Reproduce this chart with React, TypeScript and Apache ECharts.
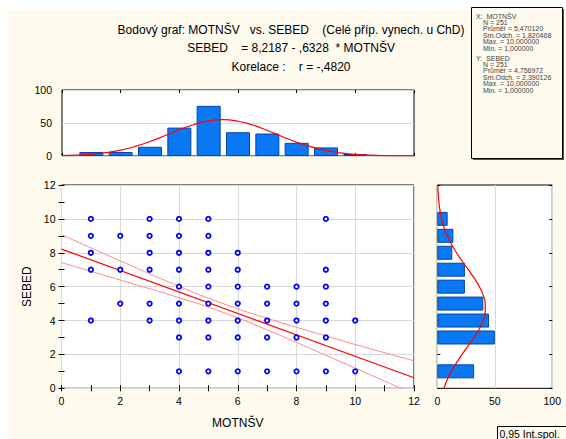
import React, { useEffect, useRef } from "react";
import * as echarts from "echarts";

const FONT = '"Liberation Sans", Arial, sans-serif';
const CREAM = "#fefaee";
const BAR = "#0a78f2";
const BAR_BORDER = "#0044b0";
const RED = "#ff0000";
const CI_RED = "#ff8a8a";
const GRID_LINE = "#d9d9d9";

// Histogram of MOTNŠV (top)
const xHistCats = [1, 2, 3, 4, 5, 6, 7, 8, 9, 10];
const xHistCounts = [6, 6, 14, 43, 76, 36, 34, 20, 13, 3];
// Fitted normal curve over MOTNŠV histogram
const xCurveX = [0, 0.5, 1, 1.5, 2, 2.5, 3, 3.5, 4, 4.5, 5, 5.5, 6, 6.5, 7, 7.5, 8, 8.5, 9, 9.5, 10, 10.5, 11, 11.5, 12];
const xCurveY = [0.6, 1.3, 2.7, 5.1, 8.9, 14.5, 21.9, 30.6, 39.7, 47.7, 53.2, 55.0, 52.7, 46.9, 38.6, 29.5, 20.9, 13.8, 8.4, 4.7, 2.5, 1.2, 0.5, 0.2, 0.1];

// Histogram of SEBED (right)
const yHistCats = [10, 9, 8, 7, 6, 5, 4, 3, 1];
const yHistCounts = [9, 14, 13, 24, 24, 40, 45, 50, 32];
const yCurveY = [0, 0.5, 1, 1.5, 2, 2.5, 3, 3.5, 4, 4.5, 5, 5.5, 6, 6.5, 7, 7.5, 8, 8.5, 9, 9.5, 10, 10.5, 11, 11.5, 12];
const yCurveX = [5.8, 8.6, 12.2, 16.6, 21.5, 26.8, 32.0, 36.5, 39.8, 41.7, 41.7, 39.9, 36.6, 32.1, 27.0, 21.7, 16.7, 12.3, 8.7, 5.8, 3.8, 2.3, 1.4, 0.8, 0.4];

// Scatter points (MOTNŠV, SEBED)
const scatterPoints: [number, number][] = [
  [1, 10], [1, 9], [1, 8], [1, 7], [1, 4],
  [2, 9], [2, 7], [2, 5],
  [3, 10], [3, 9], [3, 8], [3, 7], [3, 5], [3, 4],
  [4, 10], [4, 9], [4, 8], [4, 7], [4, 6], [4, 5], [4, 4], [4, 3], [4, 1],
  [5, 10], [5, 9], [5, 8], [5, 7], [5, 6], [5, 5], [5, 4], [5, 3], [5, 1],
  [6, 8], [6, 7], [6, 6], [6, 5], [6, 4], [6, 3], [6, 1],
  [7, 6], [7, 5], [7, 4], [7, 3], [7, 1],
  [8, 6], [8, 5], [8, 4], [8, 3], [8, 1],
  [9, 10], [9, 7], [9, 6], [9, 5], [9, 4], [9, 3], [9, 1],
  [10, 4], [10, 1],
];

// Regression line and 0.95 confidence band
const regX = [0, 12];
const regY = [8.2187, 0.6251];
const ciX = [0, 2, 4, 5.47, 7, 9, 10.5, 12];
const ciUpper = [9.07, 7.52, 6.02, 5.02, 4.13, 3.09, 2.34, 1.62];
const ciLower = [7.42, 6.39, 5.35, 4.5, 3.45, 1.95, 0.81, -0.35];

const titleLines = [
  "Bodový graf: MOTNŠV\u00a0\u00a0\u00a0vs. SEBED\u00a0\u00a0\u00a0\u00a0(Celé příp. vynech. u ChD)",
  "SEBED\u00a0\u00a0\u00a0\u00a0= 8,2187 - ,6328\u00a0\u00a0* MOTNŠV",
  "Korelace :\u00a0\u00a0\u00a0\u00a0r = -,4820",
];

const statsX = ["X:\u00a0\u00a0MOTNŠV", "N = 251", "Průměr = 5,470120", "Sm.Odch. = 1,820468", "Max. = 10,000000", "Min. = 1,000000"];
const statsY = ["Y:\u00a0\u00a0SEBED", "N = 251", "Průměr = 4,756972", "Sm.Odch. = 2,390126", "Max. = 10,000000", "Min. = 1,000000"];

const yCatLabels: string[] = [];
for (let i = 0; i <= 24; i++) yCatLabels.push(String(i / 2));

export default function App() {
  const ref = useRef<HTMLDivElement>(null);

  useEffect(() => {
    const chart = echarts.init(ref.current!, null, { renderer: "svg" });

    const tick = { show: true, inside: true, length: 3, lineStyle: { color: "#000", width: 1 } };
    const minor = { show: true, splitNumber: 2, length: 3, lineStyle: { color: "#000", width: 1 } };
    const label = { color: "#000", fontSize: 10.5, fontFamily: FONT };
    const split = { show: true, lineStyle: { color: GRID_LINE, width: 1 } };
    const noLine = { show: false };

    const rightBarData = yCatLabels.map(() => "-" as any);
    yHistCats.forEach((c, i) => {
      rightBarData[c * 2] = yHistCounts[i];
    });

    const graphic: any[] = [];
    titleLines.forEach((t, i) => {
      graphic.push({
        type: "text",
        x: 291,
        y: [30, 48, 67][i],
        style: { text: t, align: "center", verticalAlign: "middle", fontSize: 12, fontFamily: FONT, fill: "#000" },
      });
    });
    // stats box
    graphic.push({ type: "rect", shape: { x: 473, y: 9, width: 91, height: 151 }, style: { fill: "#555" } });
    graphic.push({ type: "rect", shape: { x: 471.5, y: 7.5, width: 91, height: 151 }, style: { fill: CREAM, stroke: "#000", lineWidth: 1 } });
    const statsLine = (t: string, x: number, y: number) => ({
      type: "text",
      x,
      y,
      style: { text: t, align: "left", verticalAlign: "middle", fontSize: 7, fontFamily: FONT, fill: "#444" },
    });
    statsX.forEach((t, i) => graphic.push(statsLine(t, i === 0 ? 476 : 483, 16 + i * 6.4)));
    statsY.forEach((t, i) => graphic.push(statsLine(t, i === 0 ? 476 : 483, 58 + i * 6.4)));
    // legend box bottom right
    graphic.push({ type: "rect", shape: { x: 497.5, y: 426.5, width: 80, height: 20 }, style: { fill: CREAM, stroke: "#000", lineWidth: 1 } });
    graphic.push({
      type: "text",
      x: 499.5,
      y: 428.5,
      style: { text: "0,95 Int.spol.", align: "left", verticalAlign: "top", fontSize: 10.5, fontFamily: FONT, fill: "#000" },
    });

    const gridBase = { show: true, backgroundColor: "#fff", borderColor: "#000", borderWidth: 1, containLabel: false };

    chart.setOption({
      animation: false,
      backgroundColor: "transparent",
      textStyle: { fontFamily: FONT },
      grid: [
        { ...gridBase, left: 62, top: 90, width: 352, height: 66 },
        { ...gridBase, left: 61.5, top: 185, width: 352.5, height: 203.3 },
        { ...gridBase, left: 437.3, top: 185, width: 115, height: 203.3 },
      ],
      xAxis: [
        { gridIndex: 0, type: "value", min: 0, max: 12, interval: 2, position: "bottom", axisLine: noLine, axisTick: tick, axisLabel: { show: false }, splitLine: { show: false } },
        { gridIndex: 0, type: "value", min: 0, max: 12, interval: 2, position: "top", axisLine: noLine, axisTick: tick, axisLabel: { show: false }, splitLine: { show: false } },
        {
          gridIndex: 1, type: "value", min: 0, max: 12, interval: 2, position: "bottom",
          axisLine: noLine, axisTick: tick, minorTick: minor, axisLabel: { ...label, margin: 7 }, splitLine: split,
          name: "MOTNŠV", nameLocation: "middle", nameGap: 29,
          nameTextStyle: { color: "#000", fontSize: 12, fontFamily: FONT },
        },
        { gridIndex: 1, type: "value", min: 0, max: 12, interval: 2, position: "top", axisLine: noLine, axisTick: tick, minorTick: minor, axisLabel: { show: false }, splitLine: { show: false } },
        { gridIndex: 2, type: "value", min: 0, max: 100, interval: 50, position: "bottom", axisLine: noLine, axisTick: { show: false }, axisLabel: { ...label, margin: 7 }, splitLine: split },
      ],
      yAxis: [
        { gridIndex: 0, type: "value", min: 0, max: 100, interval: 50, position: "left", axisLine: noLine, axisTick: { show: false }, axisLabel: { ...label, margin: 10 }, splitLine: split },
        {
          gridIndex: 1, type: "value", min: 0, max: 12, interval: 2, position: "left",
          axisLine: noLine, axisTick: tick, minorTick: minor, axisLabel: { ...label, margin: 6 }, splitLine: split,
          name: "SEBED", nameLocation: "middle", nameGap: 27,
          nameTextStyle: { color: "#000", fontSize: 12, fontFamily: FONT },
        },
        { gridIndex: 1, type: "value", min: 0, max: 12, interval: 2, position: "right", axisLine: noLine, axisTick: tick, minorTick: minor, axisLabel: { show: false }, splitLine: { show: false } },
        { gridIndex: 2, type: "value", min: 0, max: 12, interval: 2, position: "left", axisLine: noLine, axisTick: tick, axisLabel: { show: false }, splitLine: { show: false } },
        { gridIndex: 2, type: "value", min: 0, max: 12, interval: 2, position: "right", axisLine: noLine, axisTick: tick, axisLabel: { show: false }, splitLine: { show: false } },
        { gridIndex: 2, type: "category", data: yCatLabels, boundaryGap: false, position: "left", show: false },
      ],
      series: [
        {
          type: "bar", xAxisIndex: 0, yAxisIndex: 0, barWidth: 24,
          data: xHistCats.map((c, i) => [c, xHistCounts[i]]),
          itemStyle: { color: BAR, borderColor: BAR_BORDER, borderWidth: 1 },
        },
        {
          type: "line", xAxisIndex: 0, yAxisIndex: 0, smooth: true, symbol: "none",
          data: xCurveX.map((x, i) => [x, xCurveY[i]]),
          lineStyle: { color: RED, width: 1.2 },
        },
        {
          type: "line", xAxisIndex: 2, yAxisIndex: 1, smooth: true, symbol: "none",
          data: ciX.map((x, i) => [x, ciUpper[i]]),
          lineStyle: { color: CI_RED, width: 1 },
        },
        {
          type: "line", xAxisIndex: 2, yAxisIndex: 1, smooth: true, symbol: "none",
          data: ciX.map((x, i) => [x, ciLower[i]]),
          lineStyle: { color: CI_RED, width: 1 },
        },
        {
          type: "line", xAxisIndex: 2, yAxisIndex: 1, symbol: "none",
          data: regX.map((x, i) => [x, regY[i]]),
          lineStyle: { color: RED, width: 1.2 },
        },
        {
          type: "scatter", xAxisIndex: 2, yAxisIndex: 1, symbol: "circle", symbolSize: 4.4,
          data: scatterPoints,
          itemStyle: { color: "#fff", borderColor: "#0000ff", borderWidth: 1.8, opacity: 1 },
          z: 5,
        },
        {
          type: "bar", xAxisIndex: 4, yAxisIndex: 5, barWidth: 14,
          data: rightBarData,
          itemStyle: { color: BAR, borderColor: BAR_BORDER, borderWidth: 1 },
        },
        {
          type: "line", xAxisIndex: 4, yAxisIndex: 3, smooth: true, symbol: "none",
          data: yCurveY.map((y, i) => [yCurveX[i], y]),
          lineStyle: { color: RED, width: 1.2 },
          z: 5,
        },
      ],
      graphic,
    });

    return () => chart.dispose();
  }, []);

  return (
    <div style={{ position: "fixed", left: 0, top: 0, width: 566, height: 439, background: "#fff", overflow: "hidden" }}>
      <div style={{ position: "absolute", left: 8, top: 10, width: 558, height: 429, background: CREAM }} />
      <div ref={ref} style={{ position: "absolute", left: 0, top: 0, width: 566, height: 439 }} />
    </div>
  );
}
